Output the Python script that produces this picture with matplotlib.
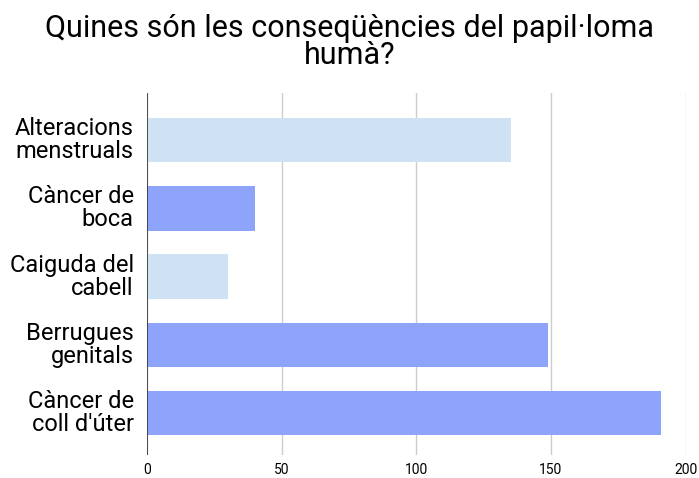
import numpy as np
import matplotlib.pyplot as plt
import matplotlib.transforms as mtransforms

plt.rcParams['font.family'] = ['Roboto', 'DejaVu Sans']

categories = ["Alteracions\nmenstruals", "Càncer de\nboca", "Caiguda del\ncabell",
              "Berrugues\ngenitals", "Càncer de\ncoll d'úter"]
values = [135, 40, 30, 149, 191]
colors = ["#cfe2f3", "#8ea4fb", "#cfe2f3", "#8ea4fb", "#8ea4fb"]
xticks = [0, 50, 100, 150, 200]

fig = plt.figure(figsize=(6.99, 4.78), dpi=100)
ax = fig.add_axes([0.210, 0.048, 0.771, 0.757])

y = np.arange(len(categories))
ax.barh(y, values, height=0.65, color=colors, zorder=3)
ax.set_xlim(0, 200)
ax.set_ylim(4.62, -0.69)
ax.set_yticks(y)
ax.set_yticklabels([])

# category labels, each line right aligned
trans = mtransforms.blended_transform_factory(ax.transAxes, ax.transData)
offset = mtransforms.ScaledTranslation(-13 / 100, 0, fig.dpi_scale_trans)
for yi, lab in zip(y, categories):
    ax.text(0, yi, lab, transform=trans + offset, ha='right', va='center',
            multialignment='right', fontsize=17, linespacing=1.0)

ax.set_xticks(xticks)
ax.set_xticklabels([str(t) for t in xticks], fontsize=10)
ax.tick_params(axis='both', length=0)
ax.tick_params(axis='x', pad=6)

for s in ax.spines.values():
    s.set_visible(False)
ax.grid(axis='x', color='#cccccc', linewidth=1, zorder=0)
ax.axvline(0, color='#333333', linewidth=1.2, zorder=4)

fig.suptitle("Quines són les conseqüències del papil·loma\nhumà?", fontsize=22,
             y=0.97, linespacing=0.92)

plt.savefig("out.png", dpi=100)
